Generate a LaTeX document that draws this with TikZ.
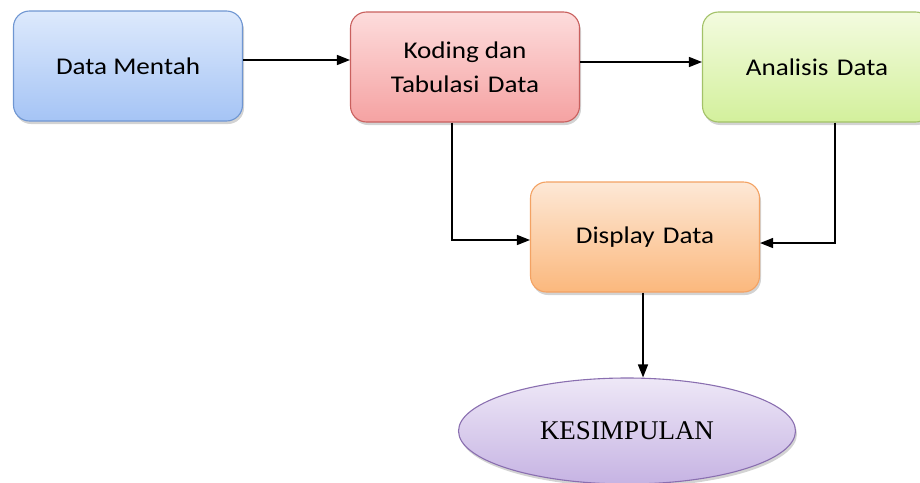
\documentclass[tikz,border=0pt]{standalone}
\usepackage{fontspec}
\setmainfont{Liberation Serif}
\newfontfamily\boxfamily[FakeStretch=1.13]{Carlito}
\usepackage{tikz}
\usetikzlibrary{shapes,arrows.meta,shadows}
\definecolor{bluetop}{HTML}{DDE9FC}
\definecolor{bluebot}{HTML}{A5C4F5}
\definecolor{blueline}{HTML}{6F96D2}
\definecolor{redtop}{HTML}{FDDCDC}
\definecolor{redbot}{HTML}{F5A2A2}
\definecolor{redline}{HTML}{C9605E}
\definecolor{greentop}{HTML}{F3FBDF}
\definecolor{greenbot}{HTML}{D3F09C}
\definecolor{greenline}{HTML}{A3C268}
\definecolor{orangetop}{HTML}{FDE8D6}
\definecolor{orangebot}{HTML}{FBB87D}
\definecolor{orangeline}{HTML}{F3A263}
\definecolor{purpletop}{HTML}{EEE8F7}
\definecolor{purplebot}{HTML}{C6B3E3}
\definecolor{purpleline}{HTML}{8A6FB0}
\tikzstyle{stage}=[rectangle,rounded corners=16pt,minimum width=229pt,minimum height=110pt,inner sep=2pt,line width=1.1pt,align=center,font=\boxfamily\fontsize{24}{34}\selectfont,drop shadow={shadow xshift=1.5pt,shadow yshift=-3pt,opacity=.35}]
\tikzstyle{result}=[ellipse,minimum width=337pt,minimum height=106pt,inner sep=0pt,line width=1.1pt,draw=purpleline,top color=purpletop,bottom color=purplebot,font=\fontsize{27}{30}\selectfont,drop shadow={shadow xshift=1.5pt,shadow yshift=-3pt,opacity=.35}]
\tikzstyle{flow}=[line width=1.3pt,-{Triangle[length=13pt,width=10pt]}]
\newcommand{\wsp}{\hspace{0.35em}}

\begin{document}
\begin{tikzpicture}[x=1pt,y=-1pt]
  \useasboundingbox (0,0) rectangle (920,482);

  \node[stage,draw=blueline,top color=bluetop,bottom color=bluebot] (mentah) at (128,66) {Data Mentah};
  \node[stage,draw=redline,top color=redtop,bottom color=redbot] (koding) at (465,67) {Koding dan\\Tabulasi\wsp Data};
  \node[stage,draw=greenline,top color=greentop,bottom color=greenbot] (analisis) at (817,67) {Analisis\wsp Data};
  \node[stage,draw=orangeline,top color=orangetop,bottom color=orangebot] (display) at (645,237) {Display\wsp Data};
  \node[result] (kesimpulan) at (627,431) {KESIMPULAN};

  \draw [flow] ([yshift=6pt]mentah.east) -- ([yshift=7pt]koding.west);
  \draw [flow] ([yshift=5pt]koding.east) -- ([yshift=5pt]analisis.west);
  \draw [flow] ([xshift=-13pt]koding.south) |- ([yshift=-3pt]display.west);
  \draw [flow] ([xshift=18pt]analisis.south) |- ([yshift=-6pt]display.east);
  \draw [flow] ([xshift=-2pt]display.south) -- ([xshift=-2pt]display.south |- kesimpulan.north);
\end{tikzpicture}
\end{document}
